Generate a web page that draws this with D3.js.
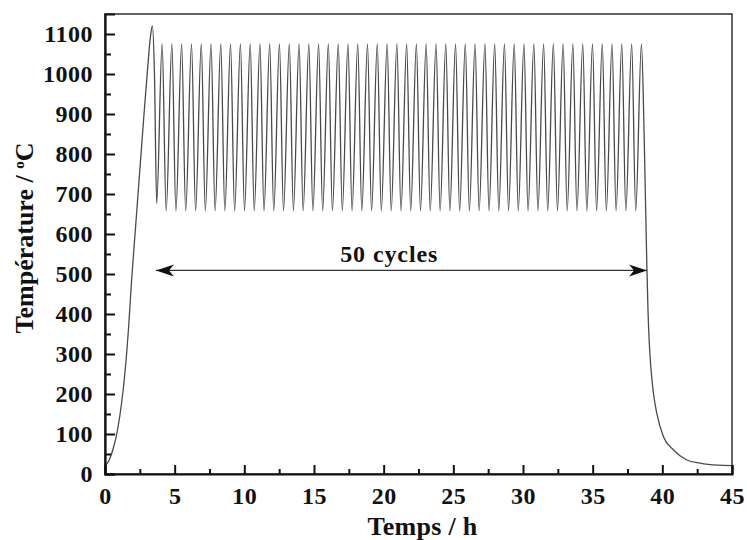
<!DOCTYPE html>
<html>
<head>
<meta charset="utf-8">
<script src="https://cdn.jsdelivr.net/npm/d3@7"></script>
<style>
  body { margin: 0; background: #fff; }
  svg text { font-family: "Liberation Serif", "Times New Roman", serif; font-weight: bold; fill: #111; }
</style>
</head>
<body>
<div id="chart"></div>
<script>
// heating ramp up to the overshoot and the first trough
const rampTime = [0, 0.3, 0.6, 0.9, 1.2, 1.45, 1.7, 1.9, 2.2, 2.5, 2.8, 3.05, 3.25, 3.4, 3.55, 3.71];
const rampTemp = [20, 35, 65, 110, 180, 260, 370, 480, 620, 760, 900, 1010, 1090, 1120, 1000, 676];

// 50 thermal cycles
const peakTime = [4.10, 4.80, 5.50, 6.21, 6.91, 7.61, 8.31, 9.01, 9.72, 10.42,
  11.12, 11.82, 12.52, 13.23, 13.93, 14.63, 15.33, 16.03, 16.74, 17.44,
  18.14, 18.84, 19.54, 20.25, 20.95, 21.65, 22.35, 23.05, 23.76, 24.46,
  25.16, 25.86, 26.56, 27.27, 27.97, 28.67, 29.37, 30.07, 30.78, 31.48,
  32.18, 32.88, 33.58, 34.29, 34.99, 35.69, 36.39, 37.09, 37.80, 38.50];
const troughTime = [4.39, 5.09, 5.79, 6.50, 7.20, 7.90, 8.60, 9.30, 10.01, 10.71,
  11.41, 12.11, 12.81, 13.52, 14.22, 14.92, 15.62, 16.32, 17.03, 17.73,
  18.43, 19.13, 19.83, 20.54, 21.24, 21.94, 22.64, 23.34, 24.05, 24.75,
  25.45, 26.15, 26.85, 27.56, 28.26, 28.96, 29.66, 30.36, 31.07, 31.77,
  32.47, 33.17, 33.87, 34.58, 35.28, 35.98, 36.68, 37.38, 38.09];
const peakTemp = 1075;
const troughTemp = 658;

// final cooling after the last peak
const coolTime = [38.69, 38.79, 38.89, 38.97, 39.06, 39.18, 39.35, 39.6, 40.08, 40.8, 41.76, 42.7, 44, 45];
const coolTemp = [853, 686, 519, 410, 330, 265, 205, 152, 93, 60, 35, 27, 22, 21];

const xTicks = d3.range(0, 46, 5);
const xMinor = d3.range(2.5, 45, 5);
const yTicks = d3.range(0, 1101, 100);
const yMinor = d3.range(50, 1100, 100);

const arrowSpan = [3.66, 38.9];
const arrowTemp = 509;
const cycleLabel = "50 cycles";

const points = rampTime.map((t, i) => [t, rampTemp[i]]);
peakTime.forEach((t, i) => {
  points.push([t, peakTemp]);
  if (i < troughTime.length) points.push([troughTime[i], troughTemp]);
});
coolTime.forEach((t, i) => points.push([t, coolTemp[i]]));

const width = 747, height = 540;
const margin = {top: 14, right: 15, bottom: 66, left: 105};

const svg = d3.select("#chart").append("svg")
  .attr("width", width)
  .attr("height", height);

const x = d3.scaleLinear().domain([0, 45]).range([margin.left, width - margin.right]);
const y = d3.scaleLinear().domain([0, 1150]).range([height - margin.bottom, margin.top]);

const defs = svg.append("defs");
["start", "end"].forEach(id => {
  defs.append("marker")
      .attr("id", "head-" + id)
      .attr("viewBox", "-20 -8 22 16")
      .attr("refX", 0)
      .attr("refY", 0)
      .attr("markerUnits", "userSpaceOnUse")
      .attr("markerWidth", 22)
      .attr("markerHeight", 16)
      .attr("orient", id === "start" ? "auto-start-reverse" : "auto")
    .append("path")
      .attr("d", "M0,0 L-18,-6 L-13,0 L-18,6 Z")
      .attr("fill", "#111");
});

// the curve
svg.append("path")
  .datum(points)
  .attr("fill", "none")
  .attr("stroke", "#4a4a4a")
  .attr("stroke-width", 1.3)
  .attr("d", d3.line()
    .x(d => x(d[0]))
    .y(d => y(d[1]))
    .curve(d3.curveMonotoneX));

// frame
svg.append("rect")
  .attr("x", x(0))
  .attr("y", y(1150))
  .attr("width", x(45) - x(0))
  .attr("height", y(0) - y(1150))
  .attr("fill", "none")
  .attr("stroke", "#222")
  .attr("stroke-width", 1.4);

// x axis, ticks pointing inward
svg.append("g")
    .attr("transform", `translate(0,${y(0)})`)
    .call(d3.axisBottom(x).tickValues(xTicks).tickSize(-9).tickPadding(22).tickFormat(d3.format("d")))
    .call(g => g.select(".domain").attr("stroke", "#111").attr("stroke-width", 2.2))
    .call(g => g.selectAll(".tick line").attr("stroke", "#111").attr("stroke-width", 2))
    .call(g => g.selectAll(".tick text").attr("font-size", 24).attr("letter-spacing", 0.5)
      .attr("dy", "0.32em").attr("fill", "#111"));

svg.append("g")
    .attr("transform", `translate(0,${y(0)})`)
    .call(d3.axisBottom(x).tickValues(xMinor).tickSize(-5).tickFormat(""))
    .call(g => g.select(".domain").remove())
    .call(g => g.selectAll(".tick line").attr("stroke", "#111").attr("stroke-width", 2));

// y axis
svg.append("g")
    .attr("transform", `translate(${x(0)},0)`)
    .call(d3.axisLeft(y).tickValues(yTicks).tickSize(-10).tickPadding(12).tickFormat(d3.format("d")))
    .call(g => g.select(".domain").attr("stroke", "#111").attr("stroke-width", 2.2))
    .call(g => g.selectAll(".tick line").attr("stroke", "#111").attr("stroke-width", 2))
    .call(g => g.selectAll(".tick text").attr("font-size", 24).attr("letter-spacing", 0.5).attr("fill", "#111"));

svg.append("g")
    .attr("transform", `translate(${x(0)},0)`)
    .call(d3.axisLeft(y).tickValues(yMinor).tickSize(-6).tickFormat(""))
    .call(g => g.select(".domain").remove())
    .call(g => g.selectAll(".tick line").attr("stroke", "#111").attr("stroke-width", 2));

// cycles arrow
svg.append("line")
  .attr("x1", x(arrowSpan[0]))
  .attr("x2", x(arrowSpan[1]))
  .attr("y1", y(arrowTemp))
  .attr("y2", y(arrowTemp))
  .attr("stroke", "#333")
  .attr("stroke-width", 1.3)
  .attr("marker-start", "url(#head-start)")
  .attr("marker-end", "url(#head-end)");

svg.append("text")
  .attr("x", x(20.4))
  .attr("y", y(arrowTemp) - 8)
  .attr("text-anchor", "middle")
  .attr("font-size", 24)
  .attr("letter-spacing", 0.9)
  .text(cycleLabel);

// axis titles
svg.append("text")
  .attr("x", (x(0) + x(45)) / 2 + 4)
  .attr("y", 535)
  .attr("text-anchor", "middle")
  .attr("font-size", 26)
  .attr("letter-spacing", 0.3)
  .text("Temps / h");

const yTitle = svg.append("text")
  .attr("transform", `translate(33,${(y(0) + y(1150)) / 2 - 6}) rotate(-90)`)
  .attr("text-anchor", "middle")
  .attr("font-size", 26);
yTitle.append("tspan").text("Température / ");
yTitle.append("tspan").attr("dy", -9).attr("font-size", 15).text("o");
yTitle.append("tspan").attr("dy", 9).text("C");
</script>
</body>
</html>
